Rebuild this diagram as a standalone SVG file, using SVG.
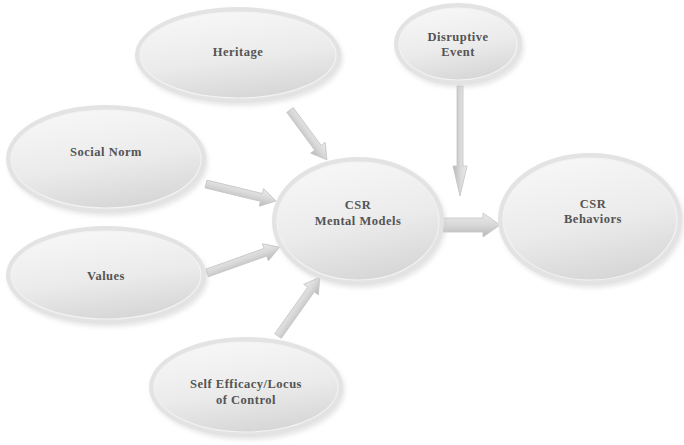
<svg xmlns="http://www.w3.org/2000/svg" width="684" height="445" viewBox="0 0 684 445">
<style>
.rim{fill:#e3e3e3;}
.body{fill:url(#bodyGrad);stroke:#f2f2f2;stroke-width:1.2;}
.shadow{fill:#cfcfcf;opacity:0.5;filter:url(#blur);}
.lbl{font-family:"Liberation Serif","Times New Roman",serif;font-weight:bold;font-size:12.5px;letter-spacing:0.5px;fill:#545454;text-anchor:middle;}
.arrow{fill:url(#arrowGrad);stroke:#c4c4c4;stroke-width:0.8;}
</style>
<defs>
<linearGradient id="bodyGrad" x1="0.3" y1="0" x2="0.6" y2="1">
<stop offset="0" stop-color="#f7f7f7"/>
<stop offset="0.55" stop-color="#ebebeb"/>
<stop offset="1" stop-color="#d6d6d6"/>
</linearGradient>
<linearGradient id="arrowGrad" x1="0" y1="0" x2="0" y2="1">
<stop offset="0" stop-color="#ececec"/>
<stop offset="0.5" stop-color="#d8d8d8"/>
<stop offset="1" stop-color="#b8b8b8"/>
</linearGradient>
<filter id="blur" x="-20%" y="-20%" width="140%" height="140%">
<feGaussianBlur stdDeviation="2"/>
</filter>
</defs>
<rect width="684" height="445" fill="#ffffff"/>

<g id="connectors">
<path class="arrow" transform="translate(290,110) rotate(53.5)" d="M0,-4 L47,-4 L47,-9 L62,0 L47,9 L47,4 L0,4 Z"/>
<path class="arrow" transform="translate(206,184) rotate(13.6)" d="M0,-4 L57,-4 L57,-9 L72,0 L57,9 L57,4 L0,4 Z"/>
<path class="arrow" transform="translate(207,273) rotate(-19.6)" d="M0,-4 L62,-4 L62,-9 L77,0 L62,9 L62,4 L0,4 Z"/>
<path class="arrow" transform="translate(278,336) rotate(-54.6)" d="M0,-4 L57,-4 L57,-9 L72,0 L57,9 L57,4 L0,4 Z"/>
<path class="arrow" transform="translate(460,86) rotate(90)" d="M0,-3 L80,-3 L80,-7 L110,0 L80,7 L80,3 L0,3 Z"/>
<path class="arrow" transform="translate(443,225)" d="M0,-7 L40,-7 L40,-12 L57,0 L40,12 L40,7 L0,7 Z"/>
</g>

<g id="heritage">
<ellipse class="shadow" cx="240" cy="58" rx="103" ry="48"/>
<ellipse class="rim" cx="238" cy="55" rx="103" ry="48"/>
<ellipse class="body" cx="238" cy="55" rx="98" ry="43"/>
<text class="lbl" x="238" y="56">Heritage</text>
</g>

<g id="disruptive">
<ellipse class="shadow" cx="460" cy="47" rx="64" ry="41"/>
<ellipse class="rim" cx="458" cy="44" rx="64" ry="41"/>
<ellipse class="body" cx="458" cy="44" rx="59" ry="36"/>
<text class="lbl" x="458" y="41">Disruptive</text>
<text class="lbl" x="458" y="56">Event</text>
</g>

<g id="social-norm">
<ellipse class="shadow" cx="108" cy="162" rx="100" ry="54"/>
<ellipse class="rim" cx="106" cy="159" rx="100" ry="54"/>
<ellipse class="body" cx="106" cy="159" rx="95" ry="49"/>
<text class="lbl" x="106" y="156">Social Norm</text>
</g>

<g id="values">
<ellipse class="shadow" cx="108" cy="278" rx="100" ry="49"/>
<ellipse class="rim" cx="106" cy="275" rx="100" ry="49"/>
<ellipse class="body" cx="106" cy="275" rx="95" ry="44"/>
<text class="lbl" x="106" y="280">Values</text>
</g>

<g id="self-efficacy">
<ellipse class="shadow" cx="248" cy="390" rx="97" ry="50"/>
<ellipse class="rim" cx="246" cy="387" rx="97" ry="50"/>
<ellipse class="body" cx="246" cy="387" rx="92" ry="45"/>
<text class="lbl" x="246" y="388">Self Efficacy/Locus</text>
<text class="lbl" x="246" y="404">of Control</text>
</g>

<g id="mental-models">
<ellipse class="shadow" cx="360" cy="224" rx="86" ry="64"/>
<ellipse class="rim" cx="358" cy="221" rx="86" ry="64"/>
<ellipse class="body" cx="358" cy="221" rx="81" ry="59"/>
<text class="lbl" x="358" y="209">CSR</text>
<text class="lbl" x="358" y="225">Mental Models</text>
</g>

<g id="behaviors">
<ellipse class="shadow" cx="592" cy="222" rx="92" ry="66"/>
<ellipse class="rim" cx="590" cy="219" rx="92" ry="66"/>
<ellipse class="body" cx="590" cy="219" rx="87" ry="61"/>
<text class="lbl" x="593" y="208">CSR</text>
<text class="lbl" x="593" y="223">Behaviors</text>
</g>
</svg>
